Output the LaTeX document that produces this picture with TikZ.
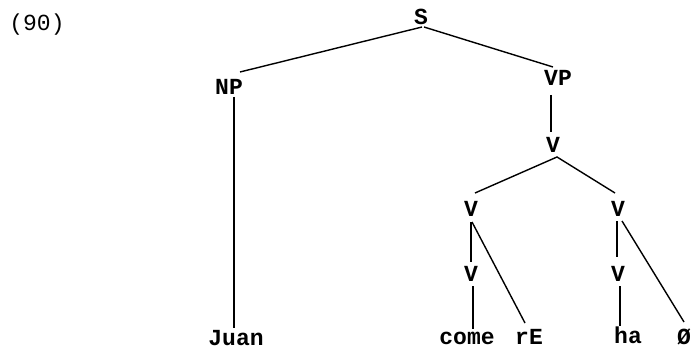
\documentclass[tikz,border=0pt]{standalone}
\usepackage{fontspec}
\setmonofont{Liberation Mono}
\usetikzlibrary{calc}
\begin{document}
\begin{tikzpicture}[x=1pt,y=-1pt,
  lab/.style={font=\ttfamily\bfseries\fontsize{23}{23}\selectfont, inner sep=0pt, anchor=base},
  branch/.style={line width=1.4pt}]
\useasboundingbox (0,0) rectangle (692,350);

% example number
\node[lab, font=\ttfamily\fontsize{23}{23}\selectfont] (num) at (37,31) {(90)};

% category labels
\node[lab] (S)   at (421,25)  {S};
\node[lab] (NP)  at (229,95)  {NP};
\node[lab] (VP)  at (558,85)  {VP};
\node[lab] (V1)  at (553,152) {V};
\node[lab] (V2L) at (471,216) {V};
\node[lab] (V2R) at (618,216) {V};
\node[lab] (V3L) at (471,281) {V};
\node[lab] (V3R) at (618,281) {V};

% terminal strings
\node[lab] (juan) at (236,345) {Juan};
\node[lab] (come) at (467,344) {come};
\node[lab] (rE)   at (529,344) {rE};
\node[lab] (ha)   at (628,343) {ha};
\node[lab] (zero) at (684,344) {Ø};

% branches
\draw[branch] ($(S.base)+(1,2)$) -- ($(NP.base)+(11,-23)$);
\draw[branch] ($(S.base)+(3,2)$) -- ($(VP.base)+(-5,-18)$);
\draw[branch] ($(NP.base)+(5,2)$) -- ($(juan.base)+(-2,-17)$);
\draw[branch] ($(VP.base)+(-7,10)$) -- ($(V1.base)+(-2,-20)$);
\draw[branch] ($(V2L.base)+(4,-23)$) -- ($(V1.base)+(4,5)$) -- ($(V2R.base)+(-3,-23)$);
\draw[branch] ($(V2L.base)+(0,6)$) -- ($(V3L.base)+(0,-19)$);
\draw[branch] ($(V2L.base)+(1,6)$) -- ($(rE.base)+(-4,-21)$);
\draw[branch] ($(V3L.base)+(2,5)$) -- ($(come.base)+(6,-15)$);
\draw[branch] ($(V2R.base)+(-1,5)$) -- ($(V3R.base)+(-1,-24)$);
\draw[branch] ($(V2R.base)+(4,5)$) -- ($(zero.base)+(0,-22)$);
\draw[branch] ($(V3R.base)+(2,5)$) -- ($(ha.base)+(-8,-17)$);
\end{tikzpicture}
\end{document}
